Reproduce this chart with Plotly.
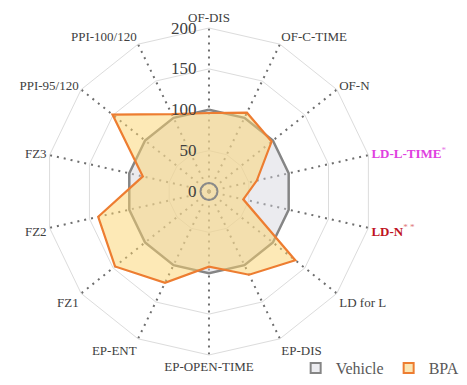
import plotly.graph_objects as go

# Behavioural measures, clockwise from the top spoke
categories = ["OF-DIS", "OF-C-TIME", "OF-N", "LD-L-TIME", "LD-N", "LD for L",
              "EP-DIS", "EP-OPEN-TIME", "EP-ENT", "FZ1", "FZ2", "FZ3",
              "PPI-95/120", "PPI-100/120"]
tick_labels = ["OF-DIS", "OF-C-TIME", "OF-N",
               "<b><span style='color:#E040E0'>LD-L-TIME</span></b><sup><span style='color:#E878E8'>*</span></sup>",
               "<b><span style='color:#C0141E'>LD-N</span></b><sup><span style='color:#E07878'>* *</span></sup>",
               "LD for L", "EP-DIS", "EP-OPEN-TIME", "EP-ENT", "FZ1", "FZ2", "FZ3",
               "PPI-95/120", "PPI-100/120"]

# Percent of control
vehicle = [100] * 14
bpa = [96, 107, 98, 60, 43, 135, 113, 92, 124, 147, 139, 83, 151, 105]

radial_ticks = [0, 50, 100, 150, 200]

serif = "Times New Roman"

W, H = 467, 385
dom_x = [0.0974, 0.7976]
dom_y = [0.0779, 0.9273]

veh_line, veh_fill = "#858585", "rgba(210,210,220,0.45)"
bpa_line, bpa_fill = "#ED7D31", "rgba(252,212,110,0.5)"


def closed(vals):
    return list(vals) + [vals[0]]


fig = go.Figure()
fig.add_trace(go.Scatterpolar(
    r=closed(vehicle), theta=closed(categories), name="Vehicle",
    mode="lines", fill="toself", fillcolor=veh_fill,
    line=dict(color=veh_line, width=2.5), showlegend=False,
))
fig.add_trace(go.Scatterpolar(
    r=closed(bpa), theta=closed(categories), name="BPA",
    mode="lines", fill="toself", fillcolor=bpa_fill,
    line=dict(color=bpa_line, width=2.2), showlegend=False,
))

# square legend keys
for name, lc, fc in [("Vehicle", veh_line, "#ececf0"), ("BPA", bpa_line, "#fbe6b4")]:
    fig.add_trace(go.Scatterpolar(
        r=[None], theta=[None], name=name, mode="markers",
        marker=dict(symbol="square", size=10, color=fc, line=dict(color=lc, width=2)),
    ))

# small ring marking the origin
cx = (dom_x[0] + dom_x[1]) / 2
cy = (dom_y[0] + dom_y[1]) / 2
rad = 8.5
fig.add_shape(type="circle", xref="paper", yref="paper",
              x0=cx - rad / W, x1=cx + rad / W, y0=cy - rad / H, y1=cy + rad / H,
              line=dict(color="#8a8a8a", width=2))

fig.update_layout(
    width=W, height=H,
    margin=dict(l=0, r=0, t=0, b=0),
    paper_bgcolor="white",
    font=dict(family=serif, color="#404040"),
    polar=dict(
        domain=dict(x=dom_x, y=dom_y),
        bgcolor="rgba(0,0,0,0)",
        gridshape="linear",
        radialaxis=dict(
            range=[0, 200], tickmode="array", tickvals=radial_ticks,
            angle=90, tickangle=90, side="counterclockwise",
            showline=False, gridcolor="#dcdcdc", gridwidth=1,
            ticks="outside", ticklen=6, tickcolor="rgba(0,0,0,0)",
            tickfont=dict(family=serif, size=17, color="#404040"),
        ),
        angularaxis=dict(
            rotation=90, direction="clockwise",
            tickmode="array", tickvals=categories, ticktext=tick_labels,
            tickfont=dict(family=serif, size=13, color="#404040"),
            showline=True, linecolor="#dcdcdc", linewidth=1,
            gridcolor="#6e6e6e", gridwidth=2, griddash="2px,5px",
            ticks="",
        ),
    ),
    showlegend=True,
    legend=dict(orientation="h", x=0.995, xanchor="right", y=0.0, yanchor="bottom",
                font=dict(family=serif, size=16, color="#595959"),
                itemwidth=30, bgcolor="rgba(0,0,0,0)"),
)

fig.write_html("out.html")
